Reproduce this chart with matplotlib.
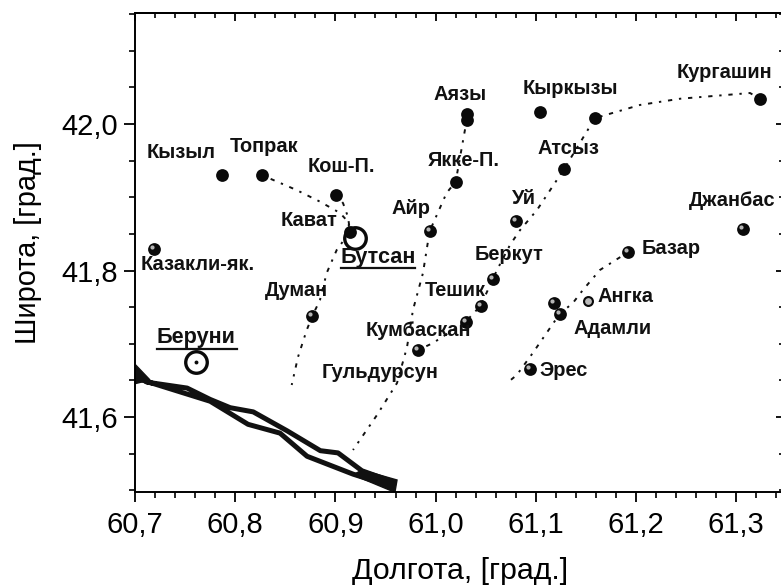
import matplotlib
matplotlib.use("Agg")
import matplotlib.pyplot as plt
from matplotlib.lines import Line2D
from matplotlib.transforms import ScaledTranslation

plt.rcParams['font.family'] = ['Liberation Sans', 'DejaVu Sans']

W, H = 781, 585

# site coordinates (longitude, latitude)
solid_x = [60.7865, 60.827, 60.901, 60.9146, 61.020, 61.031, 61.031, 61.104, 61.324, 61.159, 61.128]
solid_y = [41.930, 41.930, 41.903, 41.853, 41.921, 42.014, 42.005, 42.016, 42.034, 42.008, 41.938]
ball_x = [60.719, 60.877, 60.994, 61.080, 61.057, 61.045, 61.030, 60.982, 61.0945, 61.118, 61.124, 61.192, 61.307]
ball_y = [41.829, 41.738, 41.8535, 41.867, 41.788, 41.752, 41.730, 41.691, 41.6655, 41.755, 41.741, 41.825, 41.857]
small_x = [61.152]
small_y = [41.759]
city_x = [60.761, 60.9196]
city_y = [41.675, 41.845]

# dotted traces
t1_x = [60.827, 60.861, 60.8846, 60.9046, 60.9126, 60.9146, 60.9013, 60.8913, 60.8846, 60.877, 60.8714, 60.8627, 60.8564]
t1_y = [41.930, 41.910, 41.894, 41.8785, 41.8666, 41.853, 41.828, 41.7966, 41.7597, 41.738, 41.7188, 41.682, 41.6437]
t1b_x = [60.901, 60.9076, 60.9126, 60.9146]
t1b_y = [41.903, 41.892, 41.873, 41.853]
t2_x = [61.031, 61.020, 61.011, 60.994, 60.9874, 60.9774, 60.9715, 60.9615, 60.9415, 60.9176]
t2_y = [42.005, 41.921, 41.906, 41.8535, 41.7966, 41.746, 41.6956, 41.6464, 41.6027, 41.555]
t3_x = [61.324, 61.3138, 61.2439, 61.204, 61.159, 61.128, 61.1012, 61.0842, 61.0743, 61.0613, 61.057, 61.045, 61.030, 60.9974, 60.982]
t3_y = [42.034, 42.0423, 42.0345, 42.026, 42.008, 41.938, 41.8826, 41.855, 41.835, 41.8007, 41.788, 41.752, 41.730, 41.701, 41.691]
t4_x = [61.192, 61.164, 61.147, 61.137, 61.124, 61.097, 61.081, 61.0713]
t4_y = [41.825, 41.8007, 41.7734, 41.7556, 41.741, 41.6874, 41.6573, 41.6464]

# thick double band
band_x = [60.700, 60.712, 60.752, 60.775, 60.795, 60.818, 60.852, 60.885, 60.9026, 60.9265, 60.9585,
          60.9545, 60.9176, 60.8717, 60.8447, 60.8128, 60.775, 60.700]
band_y = [41.661, 41.6475, 41.6395, 41.624, 41.6127, 41.607, 41.581, 41.554, 41.551, 41.5266, 41.511,
          41.506, 41.522, 41.5464, 41.578, 41.590, 41.6215, 41.6535]
end_x = [60.9265, 60.9615, 60.9595, 60.9545, 60.9176]
end_y = [41.5276, 41.514, 41.498, 41.500, 41.521]
start_x = [60.700, 60.715, 60.700]
start_y = [41.672, 41.6505, 41.6455]

x_major = [60.7, 60.8, 60.9, 61.0, 61.1, 61.2, 61.3]
x_labels = ['60,7', '60,8', '60,9', '61,0', '61,1', '61,2', '61,3']
y_major = [41.6, 41.8, 42.0]
y_labels = ['41,6', '41,8', '42,0']
x_minor = [60.72, 60.74, 60.76, 60.78, 60.82, 60.84, 60.86, 60.88, 60.92, 60.94, 60.96, 60.98,
           61.02, 61.04, 61.06, 61.08, 61.12, 61.14, 61.16, 61.18, 61.22, 61.24, 61.26, 61.28, 61.32, 61.34]
y_minor = [41.5, 41.55, 41.65, 41.7, 41.75, 41.85, 41.9, 41.95, 42.05, 42.1, 42.15]

site_names = ['Кызыл', 'Топрак', 'Кош-П.', 'Казакли-як.', 'Кават', 'Думан', 'Айр', 'Якке-П.', 'Аязы',
              'Кыркызы', 'Кургашин', 'Атсыз', 'Уй', 'Джанбас', 'Беркут', 'Базар', 'Тешик', 'Ангка',
              'Кумбаскан', 'Адамли', 'Гульдурсун', 'Эрес']
site_px = [(147, 152), (230, 147), (308, 167), (141, 265), (281, 220), (265, 291), (392, 208), (428, 160),
           (433, 95), (523, 89), (677, 73), (538, 149), (512, 198), (689, 201), (475, 255), (642, 249),
           (425, 291), (598, 296), (366, 331), (573, 329), (322, 372), (539, 371)]
city_names = ['Бутсан', 'Беруни']
city_px = [(341, 258), (157, 338)]
city_rule = [(341, 415, 268), (157, 237, 349)]

fig = plt.figure(figsize=(W / 100, H / 100), dpi=100, facecolor='white')
ax = fig.add_axes([135 / W, 1 - 492 / H, (784 - 135) / W, (492 - 13) / H])
ax.set_xlim(60.7, 60.7 + 649 / 1002)
ax.set_ylim(41.6 - 75 / 732.5, 41.6 + 404 / 732.5)
ax.set_facecolor('white')

for s in ax.spines.values():
    s.set_linewidth(1.4)

ax.set_xticks(x_major)
ax.set_xticklabels(x_labels, fontsize=21)
ax.set_xticks(x_minor, minor=True)
ax.set_yticks(y_major)
ax.set_yticklabels(y_labels, fontsize=21)
ax.set_yticks(y_minor, minor=True)
ax.tick_params(axis='x', which='major', direction='out', length=7, width=1.3, pad=7)
ax.tick_params(axis='x', which='minor', direction='out', length=4, width=1.2)
ax.tick_params(axis='y', which='major', direction='out', length=8, width=1.3, pad=4)
ax.tick_params(axis='y', which='minor', direction='out', length=4.5, width=1.2)

top = ax.secondary_xaxis('top')
top.set_xticks(x_major)
top.set_xticklabels([])
top.set_xticks(x_minor, minor=True)
top.tick_params(which='major', direction='in', length=6, width=1.3)
top.tick_params(which='minor', direction='in', length=3.5, width=1.2)
right = ax.secondary_yaxis('right')
right.set_yticks(y_major)
right.set_yticklabels([])
right.set_yticks(y_minor, minor=True)
right.tick_params(which='major', direction='in', length=6, width=1.3)
right.tick_params(which='minor', direction='in', length=3.5, width=1.2)
for sec in (top, right):
    for s in sec.spines.values():
        s.set_linewidth(1.4)

fig.text(460 / W, 1 - 571 / H, 'Долгота, [град.]', fontsize=21.8, ha='center', va='center')
fig.text(28 / W, 1 - 243 / H, 'Широта, [град.]', fontsize=20.8, ha='center', va='center', rotation=90)

# band
ax.fill(band_x, band_y, facecolor='none', edgecolor='#111111', lw=3.6, joinstyle='round', zorder=2)
ax.fill(end_x, end_y, color='#111111', zorder=2)
ax.fill(start_x, start_y, color='#111111', zorder=2)

# traces
dots = (0, (1.2, 3.5, 2.2, 3.5))
for tx, ty in ((t1_x, t1_y), (t1b_x, t1b_y), (t2_x, t2_y), (t3_x, t3_y), (t4_x, t4_y)):
    ax.plot(tx, ty, color='#111111', lw=1.4, ls=dots, zorder=3)

# markers
ax.plot(solid_x, solid_y, 'o', color='#0a0a0a', ms=9.2, mew=0, zorder=4)
ax.plot(ball_x, ball_y, 'o', color='#0a0a0a', ms=9.2, mew=0, zorder=4)
ax.plot(small_x, small_y, 'o', mfc='#bbbbbb', mec='#0a0a0a', mew=1.5, ms=6.4, zorder=4)
shift = ScaledTranslation(-2 / 100, 2 / 100, fig.dpi_scale_trans)
ax.plot(ball_x, ball_y, 'o', color='#b5b5b5', ms=3.0, mew=0, zorder=5, transform=ax.transData + shift)

ax.plot(city_x, city_y, 'o', mfc='none', mec='#0a0a0a', mew=2.4, ms=15.5, zorder=6)
ax.plot(city_x[:1], city_y[:1], 'o', color='#0a0a0a', ms=2.8, mew=0, zorder=6)

# labels
for name, (px, py) in zip(site_names, site_px):
    fig.text(px / W, 1 - py / H, name, fontsize=14.4, fontweight='bold', ha='left', va='center', color='#111111', zorder=8)
for name, (px, py), (x0, x1, yr) in zip(city_names, city_px, city_rule):
    fig.text(px / W, 1 - py / H, name, fontsize=15.6, fontweight='bold', ha='left', va='center', color='#111111', zorder=8)
    fig.add_artist(Line2D([x0 / W, x1 / W], [1 - yr / H, 1 - yr / H], color='#111111', lw=1.6))

fig.savefig('out.png', dpi=100, facecolor='white')
